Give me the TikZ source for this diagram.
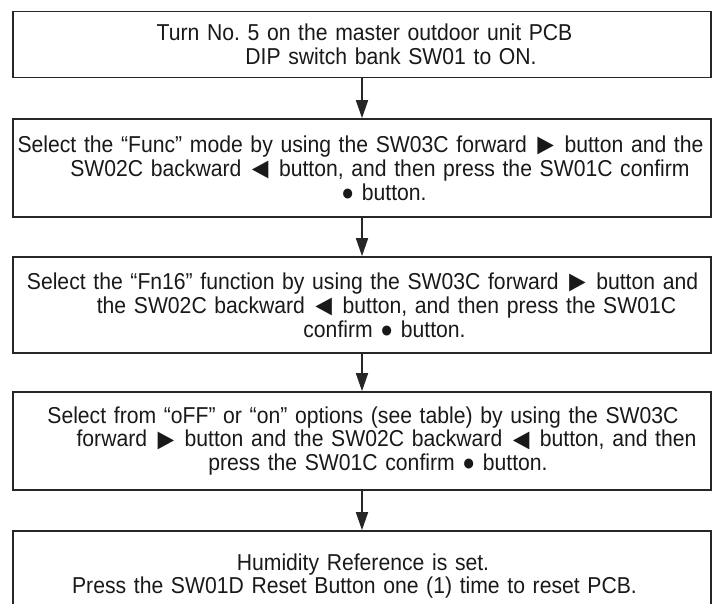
\documentclass[tikz,border=0pt]{standalone}
\usepackage{fontspec}
\setmainfont[FakeStretch=0.92]{Liberation Sans}
\usetikzlibrary{arrows.meta}
\newcommand{\sh}[1]{\hspace*{#1pt}}
\newcommand{\fwd}{\kern-2.5pt\raisebox{-2.3pt}{\scalebox{1.3}{►}}\kern-2.5pt}
\newcommand{\bwd}{\kern-2.5pt\raisebox{-2.3pt}{\scalebox{1.3}{◄}}\kern-2.5pt}
\frenchspacing
\begin{document}
\begin{tikzpicture}[x=1pt,y=-1pt,
  stepbox/.style={draw=black!85, line width=1.6pt, inner sep=0pt,
    minimum width=698pt, text width=694pt, align=center,
    font=\fontsize{23}{23.8}\selectfont, text=black!90},
  flow/.style={draw=black!85, line width=1.6pt, -{Triangle[length=18pt,width=12pt]}}]
\useasboundingbox (0,0) rectangle (717,604);
\node[stepbox, minimum height=66pt] (b1) at (362,44.5)
  {\sh{5}Turn No. 5 on the master outdoor unit PCB\\
   \sh{58}DIP switch bank SW01 to ON.};
\node[stepbox, minimum height=98pt] (b2) at (362,168)
  {\sh{-3}Select the “Func” mode by using the SW03C forward \fwd{} button and the\\
   \sh{36}SW02C backward \bwd{} button, and then press the SW01C confirm\\
   \sh{44}● button.};
\node[stepbox, minimum height=96pt] (b3) at (362,305)
  {\sh{1}Select the “Fn16” function by using the SW03C forward \fwd{} button and\\
   \sh{49}the SW02C backward \bwd{} button, and then press the SW01C\\
   \sh{45}confirm ● button.};
\node[stepbox, minimum height=98pt] (b4) at (362,441)
  {\sh{2}Select from “oFF” or “on” options (see table) by using the SW03C\\
   \sh{49}forward \fwd{} button and the SW02C backward \bwd{} button, and then\\
   \sh{32}press the SW01C confirm ● button.};
\node[stepbox, minimum height=90pt] (b5) at (362,576)
  {\sh{2}Humidity Reference is set.\\
   \sh{-15}Press the SW01D Reset Button one (1) time to reset PCB.};
\draw[flow] (b1.south) -- (b2.north);
\draw[flow] (b2.south) -- (b3.north);
\draw[flow] (b3.south) -- (b4.north);
\draw[flow] (b4.south) -- (b5.north);
\end{tikzpicture}
\end{document}
